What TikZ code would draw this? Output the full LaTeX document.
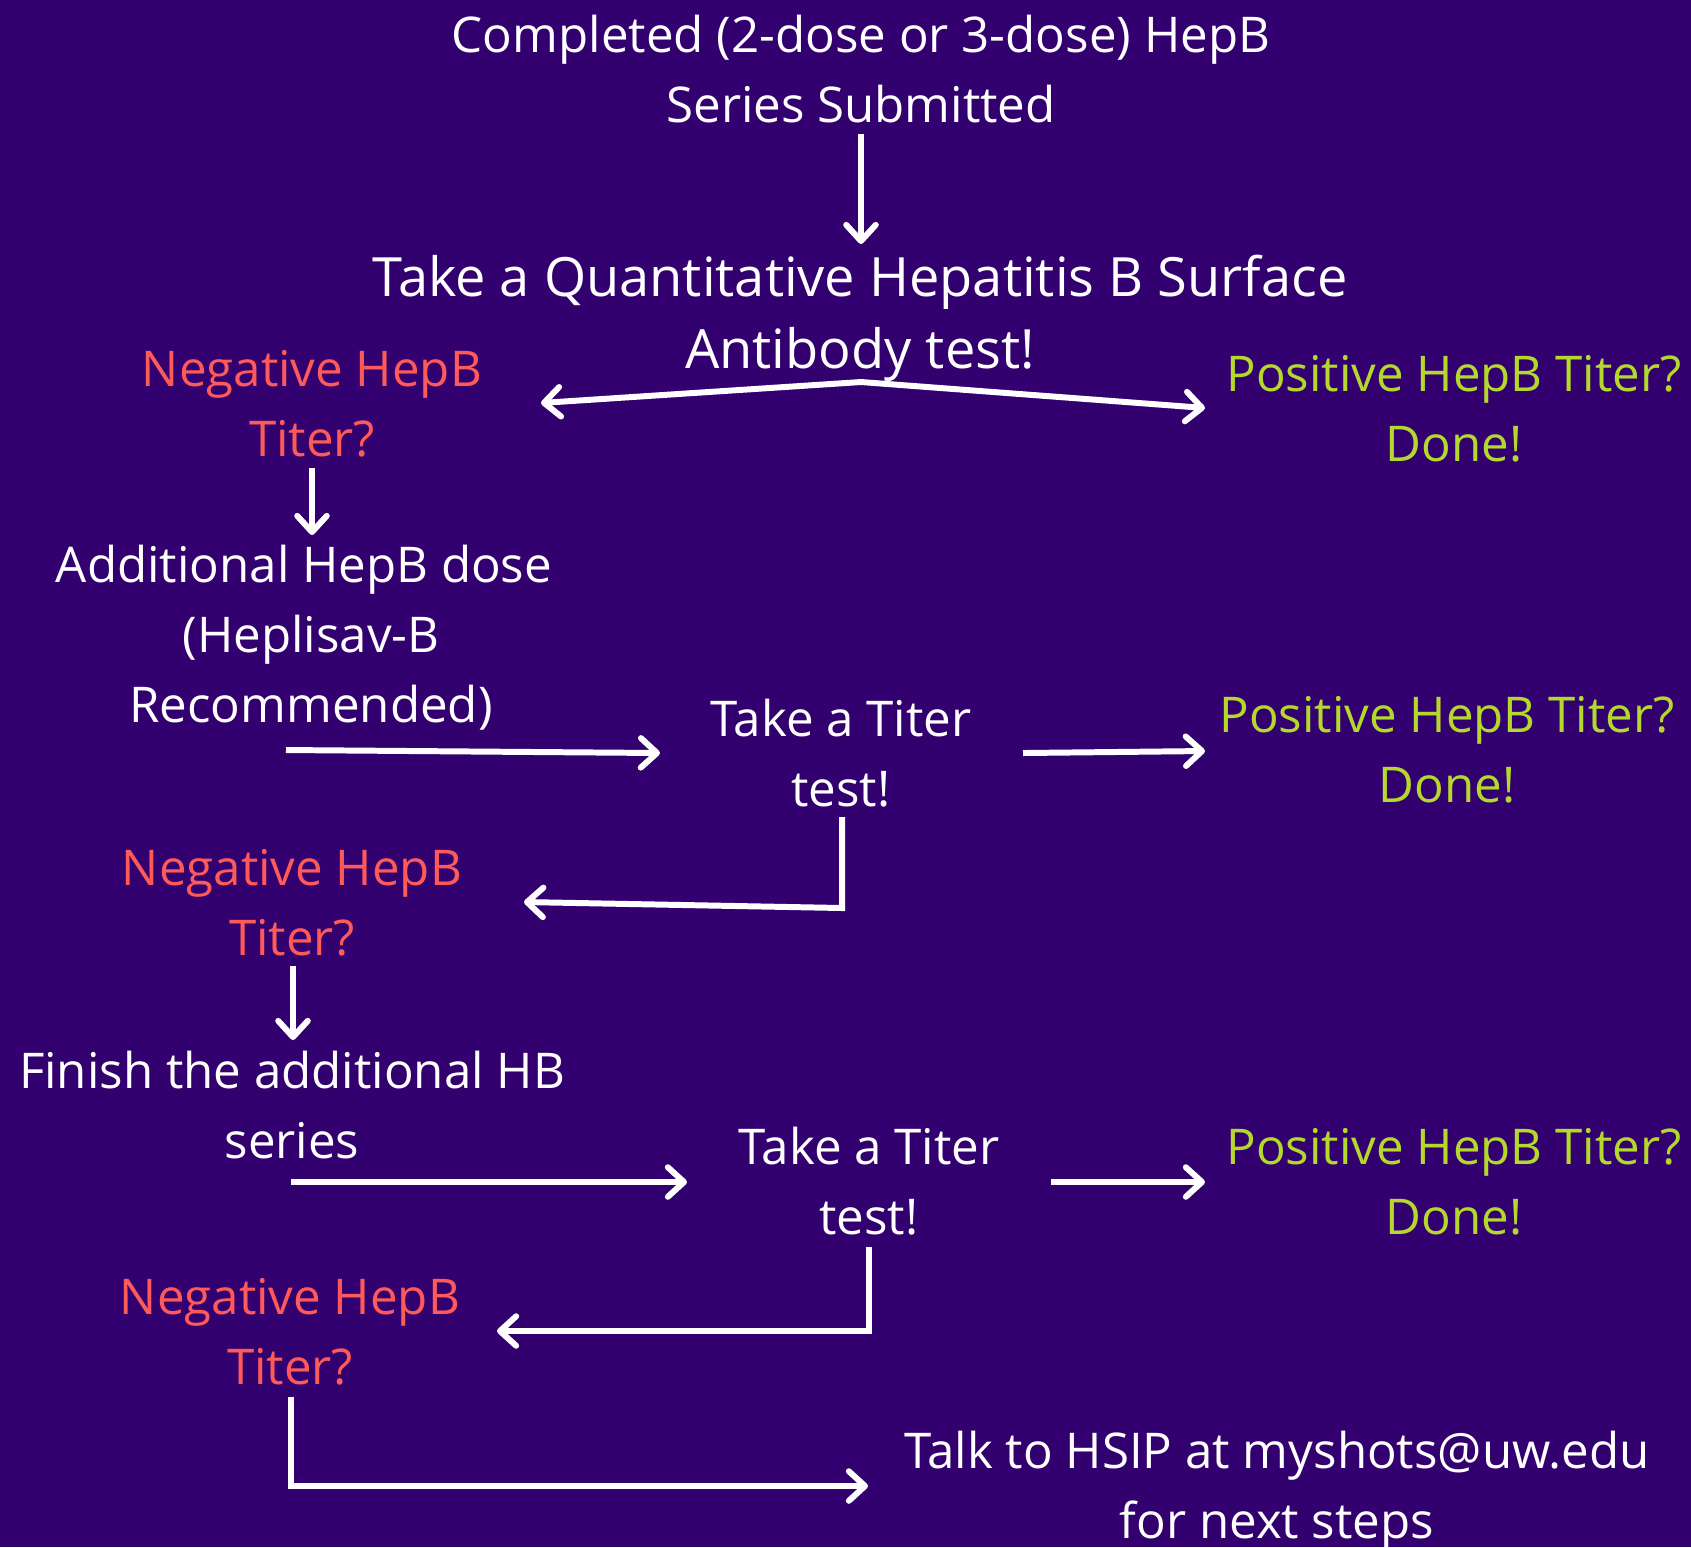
\documentclass[tikz,border=0pt]{standalone}
\usepackage{fontspec}
\setmainfont{Open Sans}
\usepackage{tikz}
\usetikzlibrary{arrows.meta}

\definecolor{uwpurple}{HTML}{33006F}
\definecolor{negred}{HTML}{FF5A5A}
\definecolor{posgreen}{HTML}{B4D82B}

\tikzset{
  txt/.style={align=center,inner sep=0pt,text=white,font=\fontsize{14}{19.9}\selectfont},
  bigtxt/.style={txt,font=\fontsize{15.4}{20.4}\selectfont},
  negtxt/.style={txt,text=negred},
  postxt/.style={txt,text=posgreen},
  barb/.tip={Straight Barb[length=4.6pt,width=8.4pt,round]},
  flow/.style={draw=white,line width=1.7pt,-barb}
}

\begin{document}
\begin{tikzpicture}[x=0.01cm,y=-0.01cm]
  \fill [uwpurple] (0,0) rectangle (1691,1547);
  \useasboundingbox (0,0) rectangle (1691,1547);

  % first step
  \node [txt] (series) at (861,69) {Completed (2-dose or 3-dose) HepB\\Series Submitted};
  \node [bigtxt] (abtest) at (860,318) {Take a Quantitative Hepatitis B Surface\\Antibody test!};
  \node [negtxt] (neg1) at (312,404) {Negative HepB\\Titer?};
  \node [postxt] (pos1) at (1454,409) {Positive HepB Titer?\\Done!};

  \coordinate (s0) at (861,134);
  \coordinate (ab0) at (861,244);
  \coordinate (fork) at (861,382);
  \coordinate (forkL) at (541,403);
  \coordinate (forkR) at (1205,408);
  \draw [flow] (s0) -- (ab0);
  \draw [flow,barb-barb] (forkL) -- (fork) -- (forkR);

  % additional dose
  \node [txt] (dose) at (311,638) {Additional HepB dose\hspace*{4pt}\\(Heplisav-B\\Recommended)};
  \node [txt] (titer1) at (841,753) {Take a Titer\\test!};
  \node [postxt] (pos2) at (1447,750) {Positive HepB Titer?\\Done!};
  \node [negtxt] (neg2) at (292,903) {Negative HepB\\Titer?};

  \coordinate (n1dn) at (312,468);
  \coordinate (d0) at (312,535);
  \coordinate (d1) at (286,750);
  \coordinate (t1in) at (660,753);
  \coordinate (t1out) at (1023,753);
  \coordinate (p2in) at (1205,751);
  \coordinate (t1dn) at (842,817);
  \coordinate (t1cn) at (842,908);
  \coordinate (n2in) at (524,902);
  \draw [flow] (n1dn) -- (d0);
  \draw [flow] (d1) -- (t1in);
  \draw [flow] (t1out) -- (p2in);
  \draw [flow] (t1dn) -- (t1cn) -- (n2in);

  % additional series
  \node [txt] (hbser) at (292,1105) {Finish the additional HB\\series};
  \node [txt] (titer2) at (869,1181) {Take a Titer\\test!};
  \node [postxt] (pos3) at (1454,1182) {Positive HepB Titer?\\Done!};
  \node [negtxt] (neg3) at (290,1332) {Negative HepB\\Titer?};
  \node [txt] (hsip) at (1277,1491) {Talk to HSIP at myshots@uw.edu\\for next steps};

  \coordinate (n2dn) at (293,966);
  \coordinate (h0) at (293,1040);
  \coordinate (s1) at (291,1182);
  \coordinate (t2in) at (687,1182);
  \coordinate (t2out) at (1051,1182);
  \coordinate (p3in) at (1205,1182);
  \coordinate (t2dn) at (869,1247);
  \coordinate (t2cn) at (869,1331);
  \coordinate (n3in) at (497,1331);
  \coordinate (n3dn) at (291,1397);
  \coordinate (n3cn) at (291,1486);
  \coordinate (hsin) at (868,1486);
  \draw [flow] (n2dn) -- (h0);
  \draw [flow] (s1) -- (t2in);
  \draw [flow] (t2out) -- (p3in);
  \draw [flow] (t2dn) -- (t2cn) -- (n3in);
  \draw [flow] (n3dn) -- (n3cn) -- (hsin);
\end{tikzpicture}
\end{document}
